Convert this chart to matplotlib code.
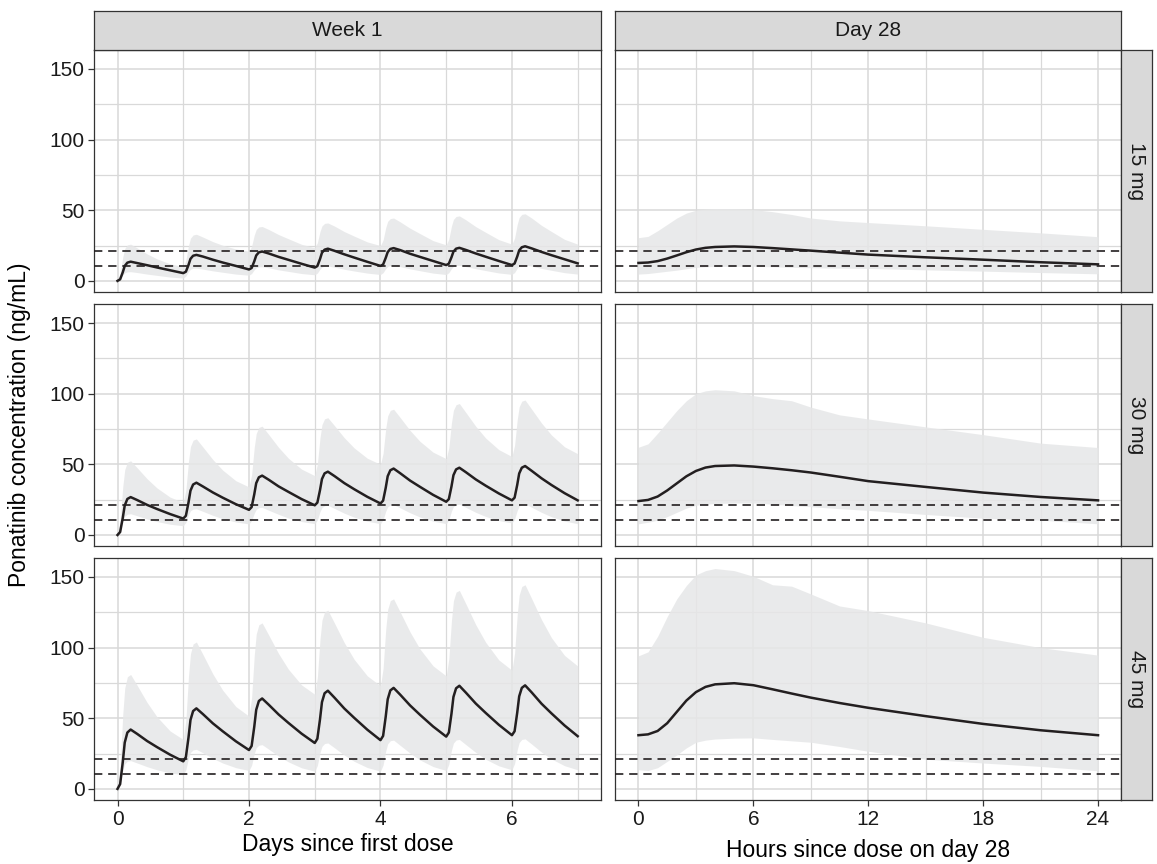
import matplotlib
matplotlib.use("Agg")
import matplotlib.pyplot as plt

plt.rcParams['font.family'] = ['Liberation Sans', 'DejaVu Sans']

# ---- data ----
doses = ['15 mg', '30 mg', '45 mg']
targets = [21.3, 10.65]   # dashed reference lines (ng/mL)

# week 1: days since first dose
days = [0, 0.04, 0.08, 0.11, 0.15, 0.2, 0.3, 0.45, 0.6, 0.8,
        1, 1.04, 1.08, 1.11, 1.15, 1.2, 1.3, 1.45, 1.6, 1.8,
        2, 2.04, 2.08, 2.11, 2.15, 2.2, 2.3, 2.45, 2.6, 2.8,
        3, 3.04, 3.08, 3.11, 3.15, 3.2, 3.3, 3.45, 3.6, 3.8,
        4, 4.04, 4.08, 4.11, 4.15, 4.2, 4.3, 4.45, 4.6, 4.8,
        5, 5.04, 5.08, 5.11, 5.15, 5.2, 5.3, 5.45, 5.6, 5.8,
        6, 6.04, 6.08, 6.11, 6.15, 6.2, 6.3, 6.45, 6.6, 6.8,
        7]

wk_med_15 = [0, 1.1, 6.1, 10.6, 12.9, 13.6, 12.6, 11.1, 9.5, 7.5,
             5.5, 6.5, 11.3, 15.6, 17.8, 18.4, 17.2, 15.0, 13.0, 10.6,
             8.1, 9.1, 13.8, 18.0, 20.2, 20.8, 19.4, 17.0, 14.9, 12.1,
             9.4, 10.5, 15.4, 19.9, 22.1, 22.8, 21.3, 18.8, 16.5, 13.5,
             10.6, 11.6, 16.3, 20.4, 22.6, 23.2, 21.8, 19.2, 17.0, 14.1,
             11.2, 12.2, 16.7, 20.7, 22.8, 23.4, 21.9, 19.4, 17.1, 14.1,
             11.2, 12.3, 17.2, 21.6, 23.8, 24.5, 23.0, 20.5, 18.2, 15.3,
             12.4]
wk_hi_15 = [0, 5.2, 16.9, 22.9, 25.5, 26.0, 23.3, 19.1, 15.6, 12.1,
            10.0, 14.6, 25.0, 30.2, 32.5, 33.0, 31.0, 27.8, 25.2, 22.6,
            21.0, 24.5, 32.4, 36.4, 38.2, 38.5, 36.4, 32.8, 29.8, 25.9,
            23.5, 27.0, 34.9, 38.9, 40.7, 41.0, 38.8, 34.9, 31.7, 27.6,
            25.0, 28.9, 37.7, 42.2, 44.1, 44.5, 41.8, 37.3, 33.5, 28.5,
            25.5, 29.6, 38.8, 43.5, 45.6, 46.0, 43.2, 38.4, 34.4, 29.2,
            26.0, 30.3, 40.0, 44.9, 47.1, 47.5, 44.5, 39.3, 35.0, 29.4,
            26.0]
wk_lo_15 = [0, 1.3, 4.2, 5.7, 6.4, 6.5, 5.9, 4.8, 3.9, 2.7,
            2.0, 3.4, 6.6, 8.2, 8.9, 9.0, 8.3, 7.1, 6.1, 4.8,
            4.0, 5.2, 7.9, 9.3, 9.9, 10.0, 9.2, 7.8, 6.7, 5.2,
            4.3, 5.5, 8.3, 9.8, 10.4, 10.5, 9.7, 8.2, 7.0, 5.5,
            4.5, 5.8, 8.7, 10.2, 10.9, 11.0, 10.1, 8.5, 7.2, 5.5,
            4.5, 5.8, 8.7, 10.2, 10.9, 11.0, 10.1, 8.6, 7.3, 5.6,
            4.6, 5.9, 9.0, 10.5, 11.2, 11.3, 10.4, 8.8, 7.5, 5.8,
            4.8]

wk_med_30 = [0, 2.1, 12.1, 20.9, 25.5, 26.8, 24.7, 21.3, 18.4, 14.8,
             11.6, 13.6, 23.0, 31.4, 35.7, 37.0, 34.3, 30.1, 26.4, 21.8,
             17.8, 19.7, 28.7, 36.7, 40.8, 42.0, 39.1, 34.4, 30.5, 25.4,
             21.0, 22.9, 31.7, 39.6, 43.6, 44.8, 41.7, 36.7, 32.4, 27.0,
             22.3, 24.3, 33.4, 41.6, 45.8, 47.0, 43.7, 38.5, 34.1, 28.4,
             23.5, 25.4, 34.3, 42.3, 46.4, 47.6, 44.4, 39.3, 34.9, 29.4,
             24.5, 26.4, 35.4, 43.5, 47.6, 48.8, 45.4, 40.1, 35.4, 29.6,
             24.5]
wk_hi_30 = [0, 10.5, 34.1, 46.2, 51.5, 52.5, 47.5, 39.8, 33.3, 26.8,
            23.0, 32.0, 52.3, 62.6, 67.1, 68.0, 62.2, 53.4, 45.9, 38.4,
            34.0, 42.6, 62.0, 71.8, 76.1, 77.0, 71.1, 62.0, 54.3, 46.6,
            42.0, 50.2, 68.7, 78.1, 82.2, 83.0, 77.4, 68.8, 61.6, 54.3,
            50.0, 57.8, 75.4, 84.3, 88.2, 89.0, 83.1, 74.0, 66.3, 58.6,
            54.0, 61.8, 79.4, 88.3, 92.2, 93.0, 86.6, 76.9, 68.6, 60.4,
            55.5, 63.5, 81.5, 90.7, 94.7, 95.5, 89.0, 79.2, 70.8, 62.4,
            57.5]
wk_lo_30 = [0, 3.0, 9.8, 13.2, 14.7, 15.0, 13.6, 11.3, 9.5, 7.6,
            6.5, 8.9, 14.3, 17.1, 18.3, 18.5, 16.7, 13.9, 11.5, 9.2,
            7.8, 10.1, 15.4, 18.1, 19.3, 19.5, 17.5, 14.6, 12.0, 9.5,
            8.0, 10.6, 16.5, 19.4, 20.7, 21.0, 18.8, 15.4, 12.6, 9.7,
            8.0, 10.7, 16.8, 19.9, 21.2, 21.5, 19.2, 15.7, 12.7, 9.8,
            8.0, 10.7, 16.9, 20.1, 21.4, 21.7, 19.5, 16.0, 13.1, 10.2,
            8.5, 11.2, 17.3, 20.4, 21.7, 22.0, 19.6, 16.0, 12.9, 9.8,
            8.0]

wk_med_45 = [0, 3.4, 18.9, 32.8, 39.9, 42.0, 38.9, 33.9, 29.6, 24.2,
             19.5, 22.5, 36.4, 48.8, 55.1, 57.0, 52.9, 46.4, 40.8, 33.7,
             27.5, 30.4, 43.9, 56.0, 62.2, 64.0, 59.6, 52.7, 46.7, 39.1,
             32.5, 35.5, 49.2, 61.4, 67.7, 69.5, 64.6, 56.9, 50.3, 41.9,
             34.5, 37.5, 51.2, 63.4, 69.7, 71.5, 66.7, 59.1, 52.5, 44.2,
             37.0, 39.9, 53.2, 65.1, 71.2, 73.0, 68.1, 60.4, 53.8, 45.4,
             38.0, 40.8, 53.9, 65.5, 71.5, 73.3, 68.3, 60.3, 53.5, 44.9,
             37.3]
wk_hi_45 = [0, 16.2, 52.7, 71.3, 79.4, 81.0, 73.2, 61.2, 51.1, 41.0,
            35.0, 48.8, 79.9, 95.7, 102.6, 104.0, 95.1, 81.4, 69.9, 58.3,
            51.5, 64.7, 94.4, 109.6, 116.2, 117.5, 108.9, 95.8, 84.7, 73.6,
            67.0, 78.9, 105.7, 119.4, 125.3, 126.5, 117.4, 103.5, 91.7, 80.0,
            73.0, 85.3, 113.0, 127.1, 133.3, 134.5, 125.2, 111.1, 99.1, 87.1,
            80.0, 92.1, 119.3, 133.2, 139.3, 140.5, 130.9, 116.2, 103.8, 91.3,
            84.0, 96.1, 123.3, 137.2, 143.3, 144.5, 134.7, 119.8, 107.1, 94.5,
            87.0]
wk_lo_45 = [0, 4.0, 13.0, 17.6, 19.6, 20.0, 18.3, 15.7, 13.5, 11.3,
            10.0, 13.6, 21.7, 25.8, 27.6, 28.0, 25.5, 21.6, 18.3, 15.0,
            13.0, 16.7, 24.9, 29.1, 30.9, 31.3, 28.1, 23.2, 19.1, 14.9,
            12.5, 16.5, 25.5, 30.1, 32.1, 32.5, 29.1, 23.9, 19.5, 15.1,
            12.5, 16.9, 26.8, 31.9, 34.1, 34.5, 30.8, 25.3, 20.5, 15.8,
            13.0, 17.4, 27.3, 32.4, 34.6, 35.0, 31.3, 25.8, 21.0, 16.3,
            13.5, 17.9, 27.7, 32.8, 35.0, 35.4, 31.7, 26.0, 21.2, 16.4,
            13.5]

# day 28: hours since dose
hours = [0, 0.5, 1, 1.5, 2, 2.5, 3, 3.5, 4, 5, 6, 7, 8, 9, 10.5, 12, 15, 18, 21, 24]

d28_med_15 = [12.7, 13.0, 14.0, 15.8, 18.0, 20.3, 22.2, 23.4, 24.0, 24.4,
              24.0, 23.2, 22.3, 21.4, 20.0, 18.6, 16.7, 15.0, 13.2, 11.7]
d28_hi_15 = [30.6, 31.5, 35.5, 40.0, 44.5, 48.0, 50.0, 50.8, 51.1, 51.0,
             50.5, 49.0, 47.0, 44.5, 42.5, 41.3, 39.0, 36.5, 34.0, 31.3]
d28_lo_15 = [4.8, 5.2, 6.0, 6.8, 7.6, 8.6, 9.6, 10.0, 10.2, 10.3,
             10.3, 10.0, 9.6, 9.3, 9.0, 8.8, 7.8, 6.9, 5.9, 5.0]

d28_med_30 = [24.0, 24.8, 27.2, 31.5, 36.5, 41.5, 45.3, 47.7, 48.8, 49.2,
              48.4, 47.2, 45.8, 44.2, 41.2, 38.1, 34.0, 30.0, 26.9, 24.5]
d28_hi_30 = [62.1, 64.5, 72.0, 80.0, 88.0, 95.0, 100.0, 102.0, 102.8, 102.0,
             98.6, 96.5, 95.0, 90.5, 85.0, 82.1, 76.5, 71.0, 65.0, 61.9]
d28_lo_30 = [7.9, 9.0, 10.5, 13.0, 16.0, 19.0, 21.0, 21.8, 22.3, 22.6,
             22.6, 21.8, 20.8, 20.0, 18.6, 17.4, 14.5, 11.9, 10.5, 7.9]

d28_med_45 = [38.0, 38.6, 41.0, 46.5, 54.5, 62.5, 68.5, 72.2, 74.0, 74.8,
              73.4, 70.5, 67.5, 64.6, 60.8, 57.4, 51.5, 46.0, 41.5, 38.0]
d28_hi_45 = [94.2, 97.0, 108.0, 122.0, 134.5, 144.0, 151.5, 154.5, 156.0, 154.5,
             150.5, 144.5, 143.5, 138.0, 129.5, 126.2, 117.5, 107.3, 100.0, 94.7]
d28_lo_45 = [13.5, 13.0, 15.0, 19.5, 24.0, 29.0, 33.0, 34.5, 35.3, 35.9,
             36.1, 35.0, 34.0, 33.0, 30.0, 26.6, 21.0, 18.3, 15.9, 12.8]

week1 = [(wk_med_15, wk_lo_15, wk_hi_15),
         (wk_med_30, wk_lo_30, wk_hi_30),
         (wk_med_45, wk_lo_45, wk_hi_45)]
day28 = [(d28_med_15, d28_lo_15, d28_hi_15),
         (d28_med_30, d28_lo_30, d28_hi_30),
         (d28_med_45, d28_lo_45, d28_hi_45)]

# ---- layout (pixels) ----
W, H = 1157, 864
fig = plt.figure(figsize=(W / 100, H / 100), dpi=100)


def px_axes(x0, y0, x1, y1):
    return fig.add_axes([x0 / W, 1 - y1 / H, (x1 - x0) / W, (y1 - y0) / H])


cols = [(94.5, 600.7), (615.5, 1121)]
rows = [(49.5, 291.9), (303.5, 546.0), (557.5, 799.9)]
strip_top = (11, 49.5)
strip_right = (1121, 1152)

ribbon_col = '#E6E7E8'
line_col = '#231F20'
grid_col = '#D9D9D9'
border_col = '#333333'
strip_col = '#D9D9D9'
tick_size = 15

for r, dose in enumerate(doses):
    for c in range(2):
        ax = px_axes(cols[c][0], rows[r][0], cols[c][1], rows[r][1])
        if c == 0:
            x = days
            med, lo, hi = week1[r]
            ax.set_xlim(-0.35, 7.35)
            ax.set_xticks([0, 2, 4, 6])
            ax.set_xticks([1, 3, 5, 7], minor=True)
        else:
            x = hours
            med, lo, hi = day28[r]
            ax.set_xlim(-1.2, 25.2)
            ax.set_xticks([0, 6, 12, 18, 24])
            ax.set_xticks([3, 9, 15, 21], minor=True)
        ax.set_ylim(-7.8, 163.8)
        ax.set_yticks([0, 50, 100, 150])
        ax.set_yticks([25, 75, 125], minor=True)
        ax.set_axisbelow(True)
        ax.grid(which='major', color=grid_col, lw=1.1)
        ax.grid(which='minor', color=grid_col, lw=0.9)

        ax.fill_between(x, lo, hi, color=ribbon_col, lw=0, alpha=0.85, zorder=2)
        for t in targets:
            ax.axhline(t, color=line_col, lw=1.2, ls=(0, (5, 3.5)), zorder=3)
        ax.plot(x, med, color=line_col, lw=1.8, solid_joinstyle='round', zorder=4)

        for s in ax.spines.values():
            s.set_color(border_col)
            s.set_linewidth(0.9)
        ax.tick_params(which='minor', length=0)
        ax.tick_params(which='major', length=4, width=0.9, color=border_col,
                       labelsize=tick_size, labelcolor='#1A1A1A', pad=3)
        if c == 1:
            ax.tick_params(axis='y', length=0, labelleft=False)
        if r < 2:
            ax.tick_params(axis='x', length=0, labelbottom=False)

    # right strip with dose label
    sax = px_axes(strip_right[0], rows[r][0], strip_right[1], rows[r][1])
    sax.set_facecolor(strip_col)
    sax.set_xticks([])
    sax.set_yticks([])
    for s in sax.spines.values():
        s.set_color(border_col)
        s.set_linewidth(0.9)
    sax.text(0.5, 0.5, dose, rotation=-90, ha='center', va='center',
             fontsize=tick_size, color='#1A1A1A', transform=sax.transAxes)

# top strips
for c, lab in enumerate(['Week 1', 'Day 28']):
    sax = px_axes(cols[c][0], strip_top[0], cols[c][1], strip_top[1])
    sax.set_facecolor(strip_col)
    sax.set_xticks([])
    sax.set_yticks([])
    for s in sax.spines.values():
        s.set_color(border_col)
        s.set_linewidth(0.9)
    sax.text(0.5, 0.5, lab, ha='center', va='center', fontsize=tick_size,
             color='#1A1A1A', transform=sax.transAxes)

# axis titles
fig.text(20 / W, 1 - 424.7 / H, 'Ponatinib concentration (ng/mL)', rotation=90,
         ha='center', va='center', fontsize=16.5, color='black')
fig.text((cols[0][0] + cols[0][1]) / 2 / W, 1 - 845 / H, 'Days since first dose',
         ha='center', va='center', fontsize=16.5, color='black')
fig.text((cols[1][0] + cols[1][1]) / 2 / W, 1 - 851 / H, 'Hours since dose on day 28',
         ha='center', va='center', fontsize=16.5, color='black')

fig.savefig('out.png', dpi=100)
